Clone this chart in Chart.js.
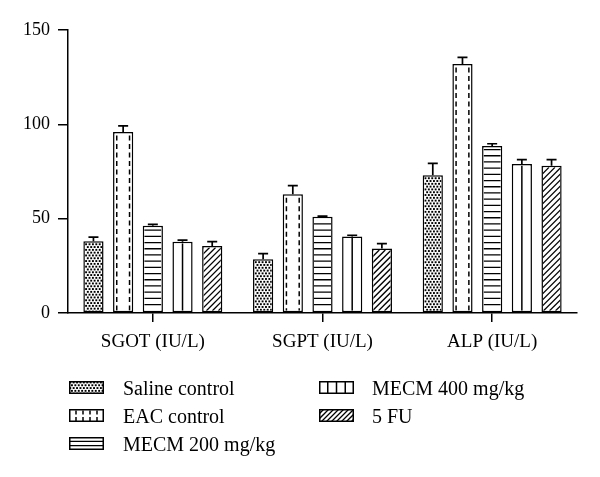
<!DOCTYPE html>
<html>
<head>
<meta charset="utf-8">
<script src="https://cdn.jsdelivr.net/npm/chart.js@4"></script>
<style>
  html, body { margin: 0; padding: 0; background: #fff; }
  #wrap { width: 600px; height: 477px; position: relative; }
</style>
</head>
<body>
<div id="wrap"><canvas id="c" width="600" height="477"></canvas></div>
<script>
// ---- data ----
const categories = ['SGOT (IU/L)', 'SGPT (IU/L)', 'ALP (IU/L)'];
const seriesNames = ['Saline control', 'EAC control', 'MECM 200 mg/kg', 'MECM 400 mg/kg', '5 FU'];
const salineControl = [38, 28.5, 73];
const salineErr = [2.2, 3.0, 6.3];
const eacControl = [96, 63, 132];
const eacErr = [3.2, 4.5, 3.5];
const mecm200 = [46.3, 51, 88.5];
const mecm200Err = [0.7, 0.3, 1.2];
const mecm400 = [37.8, 40.6, 79];
const mecm400Err = [0.8, 0.6, 2.3];
const fu5 = [35.5, 34.2, 78];
const fu5Err = [2.3, 2.6, 3.3];
const yTicks = [0, 50, 100, 150];

const patterns = ['dots', 'dashv', 'horiz', 'vert', 'hatch'];
const FONT = '"Liberation Serif", "Times New Roman", serif';

function drawPattern(ctx, type, x, y, w, h, legend) {
  ctx.save();
  ctx.beginPath();
  ctx.rect(x, y, w, h);
  ctx.clip();
  ctx.strokeStyle = '#000';
  ctx.fillStyle = '#000';
  if (type === 'dots') {
    let row = 0;
    for (let yy = y + 0.5; yy < y + h; yy += 2.8, row++) {
      const off = (row % 2) ? 1.7 : 0;
      for (let xx = x + 0.3 + off; xx < x + w; xx += 3.4) {
        ctx.fillRect(xx, yy, 1.9, 1.9);
      }
    }
  } else if (type === 'dashv') {
    ctx.lineWidth = 1.5;
    ctx.setLineDash(legend ? [4, 2.5] : [5, 3.5]);
    const xs = [];
    if (legend) {
      for (let k = 1; k < 5; k++) xs.push(x + k * w / 5);
    } else {
      xs.push(x + 2.2, x + w - 2.2);
    }
    xs.forEach(xx => {
      ctx.beginPath();
      ctx.moveTo(xx, y + (legend ? 1.5 : 2));
      ctx.lineTo(xx, y + h);
      ctx.stroke();
    });
  } else if (type === 'horiz') {
    ctx.lineWidth = 1.3;
    const s = legend ? h / 3 : 6.2;
    for (let yy = y + h - s; yy > y + 1; yy -= s) {
      ctx.beginPath();
      ctx.moveTo(x, yy);
      ctx.lineTo(x + w, yy);
      ctx.stroke();
    }
  } else if (type === 'vert') {
    ctx.lineWidth = 1.5;
    const cells = Math.max(1, Math.round(w / 9.5));
    const s = w / cells;
    for (let k = 1; k < cells; k++) {
      const xx = x + k * s;
      ctx.beginPath();
      ctx.moveTo(xx, y);
      ctx.lineTo(xx, y + h);
      ctx.stroke();
    }
  } else if (type === 'hatch') {
    ctx.lineWidth = 1.3;
    const s = legend ? 5 : 6;
    for (let x0 = x - h; x0 < x + w + s; x0 += s) {
      ctx.beginPath();
      ctx.moveTo(x0, y + h);
      ctx.lineTo(x0 + h, y);
      ctx.stroke();
    }
  }
  ctx.restore();
}

const errs = [salineErr, eacErr, mecm200Err, mecm400Err, fu5Err];

const patternPlugin = {
  id: 'patternPlugin',
  afterDatasetsDraw(chart) {
    const ctx = chart.ctx;
    const bw = 1.5;
    chart.data.datasets.forEach((ds, di) => {
      const meta = chart.getDatasetMeta(di);
      meta.data.forEach((bar, i) => {
        const p = bar.getProps(['x', 'y', 'base', 'width'], true);
        const left = p.x - p.width / 2;
        const top = Math.min(p.y, p.base);
        const h = Math.abs(p.base - p.y);
        drawPattern(ctx, patterns[di], left + bw, top + bw, p.width - 2 * bw, h - 2 * bw, false);
        // error bar (upward only)
        const yScale = chart.scales.y;
        const v = ds.data[i];
        const e = errs[di][i];
        const yTop = yScale.getPixelForValue(v + e);
        ctx.save();
        ctx.strokeStyle = '#000';
        ctx.lineWidth = 1.7;
        ctx.beginPath();
        ctx.moveTo(p.x, top);
        ctx.lineTo(p.x, yTop);
        ctx.moveTo(p.x - 5, yTop);
        ctx.lineTo(p.x + 5, yTop);
        ctx.stroke();
        ctx.restore();
      });
    });
  },
  afterDraw(chart) {
    const ctx = chart.ctx;
    ctx.save();
    chart.data.datasets.forEach((ds, di) => {
      const col = di < 3 ? 0 : 1;
      const row = di < 3 ? di : di - 3;
      const baseY = 395 + row * 28;
      const bx = col === 0 ? 69 : 319;
      const tx = col === 0 ? 123 : 372;
      const bwid = 35, bh = 13;
      const by = baseY - 14;
      ctx.fillStyle = '#fff';
      ctx.fillRect(bx, by, bwid, bh);
      drawPattern(ctx, patterns[di], bx, by, bwid, bh, true);
      ctx.strokeStyle = '#000';
      ctx.lineWidth = 1.5;
      ctx.strokeRect(bx + 0.75, by + 0.75, bwid - 1.5, bh - 1.5);
      ctx.fillStyle = '#000';
      ctx.font = '20px ' + FONT;
      ctx.textBaseline = 'alphabetic';
      ctx.textAlign = 'left';
      ctx.fillText(ds.label, tx, baseY);
    });
    ctx.restore();
  }
};

const datasetValues = [salineControl, eacControl, mecm200, mecm400, fu5];

new Chart(document.getElementById('c'), {
  type: 'bar',
  data: {
    labels: categories,
    datasets: seriesNames.map((name, i) => ({
      label: name,
      data: datasetValues[i],
      backgroundColor: '#fff',
      borderColor: '#000',
      borderWidth: 1.5,
      borderSkipped: false,
      barPercentage: 0.68,
      categoryPercentage: 0.875
    }))
  },
  options: {
    responsive: false,
    animation: false,
    devicePixelRatio: 1,
    layout: { padding: { left: 0, right: 23, top: 30, bottom: 124 } },
    plugins: {
      legend: { display: false },
      tooltip: { enabled: false }
    },
    scales: {
      x: {
        grid: {
          offset: false,
          drawOnChartArea: false,
          tickLength: 9,
          color: '#000',
          lineWidth: 1.5
        },
        border: { color: '#000', width: 1.5 },
        ticks: {
          color: '#000',
          padding: 9,
          font: { family: FONT, size: 19 }
        },
        afterFit(scale) { scale.height = 40; }
      },
      y: {
        min: 0,
        max: 150,
        afterBuildTicks(scale) { scale.ticks = yTicks.map(v => ({ value: v })); },
        grid: {
          drawOnChartArea: false,
          tickLength: 10,
          color: '#000',
          lineWidth: 1.5
        },
        border: { color: '#000', width: 1.5 },
        ticks: {
          color: '#000',
          padding: 8,
          font: { family: FONT, size: 18 }
        },
        afterFit(scale) { scale.width = 68; }
      }
    }
  },
  plugins: [patternPlugin]
});
</script>
</body>
</html>
